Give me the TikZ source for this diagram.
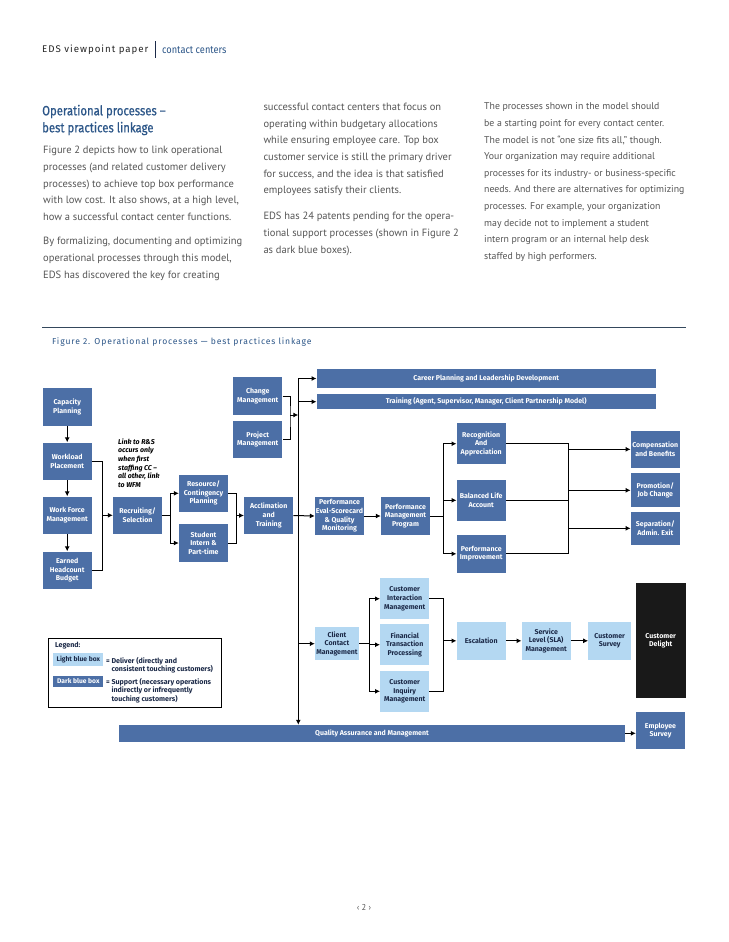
\documentclass[tikz,border=0pt]{standalone}
\usepackage{fontspec}
\setmainfont{PT Sans}
\newfontfamily\figfont{Fira Sans}
\newfontfamily\condfont[FakeStretch=0.88]{Fira Sans}
\newfontfamily\headfont[FakeStretch=0.84,FakeBold=0.6]{Fira Sans}
\newfontfamily\capfont[LetterSpace=10]{Fira Sans}
\usetikzlibrary{arrows.meta}
\definecolor{dkblue}{RGB}{76,111,166}
\definecolor{ltblue}{RGB}{180,216,242}
\definecolor{navy}{RGB}{28,42,72}
\definecolor{headblue}{RGB}{44,86,136}
\definecolor{bodygray}{RGB}{85,85,85}
\definecolor{rulegray}{RGB}{52,72,92}

\tikzset{
  box/.style={inner sep=1pt,align=center,minimum width=49,minimum height=37.5,
    font=\figfont\bfseries\fontsize{7}{8.6}\selectfont},
  dark/.style={box,fill=dkblue,text=white},
  light/.style={box,fill=ltblue,text=navy},
  bar/.style={dark,minimum height=16},
  body/.style={anchor=north west,inner sep=0,align=left,text=bodygray,
    font=\fontsize{10.5}{16.6}\selectfont},
  small/.style={anchor=north west,inner sep=0,align=left,text=navy,
    font=\figfont\bfseries\fontsize{7.1}{8.4}\selectfont},
  link/.style={line width=1pt},
}

\begin{document}
\begin{tikzpicture}[x=1pt,y=-1pt,>={Latex[length=5pt,width=5pt]}]
\useasboundingbox (0,0) rectangle (728,942);
\fill[white] (0,0) rectangle (728,942);

% page head
\node[anchor=west,inner sep=0,text=black!85,font=\capfont\fontsize{9.7}{11}\selectfont] (hd) at (42,50) {EDS viewpoint paper};
\draw[navy,line width=0.7pt] (155,41.5) -- (155,58);
\node[anchor=west,inner sep=0,text=headblue,font=\condfont\fontsize{10.5}{11}\selectfont] (hdb) at (162,50) {contact centers};

% text columns
\node[anchor=north west,inner sep=0,align=left,text=headblue,font=\headfont\fontsize{13.5}{17}\selectfont] (ttl) at (42,104.6) {Operational processes –\\best practices linkage};
\node[body] (pa) at (43,146.3) {Figure 2 depicts how to link operational\\
processes (and related customer delivery\\
processes) to achieve top box performance\\
with low cost. It also shows, at a high level,\\
how a successful contact center functions.};
\node[body] (pb) at (43,237.3) {By formalizing, documenting and optimizing\\
operational processes through this model,\\
EDS has discovered the key for creating};
\node[body] (pc) at (263.3,103) {successful contact centers that focus on\\
operating within budgetary allocations\\
while ensuring employee care. Top box\\
customer service is still the primary driver\\
for success, and the idea is that satisfied\\
employees satisfy their clients.};
\node[body] (pd) at (263.3,212.3) {EDS has 24 patents pending for the opera-\\
tional support processes (shown in Figure 2\\
as dark blue boxes).};
\node[body,font=\fontsize{9.8}{16.65}\selectfont] (pe) at (484,102.6) {The processes shown in the model should\\
be a starting point for every contact center.\\
The model is not “one size fits all,” though.\\
Your organization may require additional\\
processes for its industry- or business-specific\\
needs. And there are alternatives for optimizing\\
processes. For example, your organization\\
may decide not to implement a student\\
intern program or an internal help desk\\
staffed by high performers.};

\draw[rulegray,line width=0.8pt] (42,327) -- (686,327);
\node[anchor=west,inner sep=0,text=headblue,font=\capfont\fontsize{8.6}{9}\selectfont] (fig) at (52,342) {Figure 2. Operational processes — best practices linkage};

% support boxes
\node[dark] (cap) at (67.2,406.8) {Capacity\\Planning};
\node[dark] (wlp) at (67.2,461.3) {Workload\\Placement};
\node[dark] (wfm) at (67.2,515.3) {Work Force\\Management};
\node[dark] (ehb) at (67.2,570.3) {Earned\\Headcount\\Budget};
\node[dark] (rcs) at (137.5,515.3) {Recruiting/\\Selection};
\node[dark] (rcp) at (203.5,493.3) {Resource/\\Contingency\\Planning};
\node[dark] (sip) at (203.5,543) {Student\\Intern \&\\Part-time};
\node[dark] (act) at (268.7,515.5) {Acclimation\\and\\Training};
\node[dark] (chg) at (257.8,396) {Change\\Management};
\node[dark] (prj) at (257.8,439.5) {Project\\Management};
\node[dark] (pev) at (339.5,516) {Performance\\Eval-Scorecard\\\& Quality\\Monitoring};
\node[dark] (pmp) at (405.5,516) {Performance\\Management\\Program};
\node[dark,minimum height=40.7] (rap) at (481.2,443.7) {Recognition\\And\\Appreciation};
\node[dark,minimum height=40.7] (bla) at (481.2,500.3) {Balanced Life\\Account};
\node[dark] (pim) at (481.2,553.8) {Performance\\Improvement};
\node[dark,minimum height=36.7] (cmp) at (655.3,449.3) {Compensation\\and Benefits};
\node[dark,minimum height=34] (prm) at (655.3,490.3) {Promotion/\\Job Change};
\node[dark,minimum height=33.3] (sae) at (655.3,528.3) {Separation/\\Admin. Exit};
\node[bar,minimum width=339,minimum height=18.4] (cpl) at (486.2,378.5) {Career Planning and Leadership Development};
\node[bar,minimum width=339,minimum height=15.3] (trn) at (486.2,401.7) {Training (Agent, Supervisor, Manager, Client Partnership Model)};
\node[bar,minimum width=506,minimum height=16.7] (qam) at (372,733.3) {Quality Assurance and Management};
\node[dark,minimum height=37] (esv) at (660.5,730.8) {Employee\\Survey};

% delivery boxes
\node[light,minimum width=44,minimum height=32.7] (ccm) at (337,643.7) {Client\\Contact\\Management};
\node[light,minimum height=40.7] (cim) at (404.7,598.7) {Customer\\Interaction\\Management};
\node[light,minimum height=40.7] (ftp) at (404.7,644.7) {Financial\\Transaction\\Processing};
\node[light,minimum height=40.7] (ciq) at (404.7,691.3) {Customer\\Inquiry\\Management};
\node[light,minimum height=38.3] (esc) at (481.2,640.8) {Escalation};
\node[light,minimum height=38.3] (sla) at (546.2,640.8) {Service\\Level (SLA)\\Management};
\node[light,minimum width=42.7,minimum height=38.3] (csv) at (609.7,640.8) {Customer\\Survey};
\node[box,fill=black!90,text=white,minimum width=50,minimum height=115] (cdl) at (660.7,640.8) {Customer\\Delight};

\node[small,text=black,font=\figfont\bfseries\itshape\fontsize{7}{8.6}\selectfont] (lnk) at (118,438.4) {Link to R\&S\\occurs only\\when first\\staffing CC –\\all other, link\\to WFM};

% connectors
\draw[link,->] (cap) -- (wlp);
\draw[link,->] (wlp) -- (wfm);
\draw[link,->] (wfm) -- (ehb);
\coordinate (b1) at (102.7,515.3);
\draw[link] (wlp.east) -| (b1) |- (ehb.east);
\draw[link,->] (b1) -- (rcs.west);
\coordinate (b2) at (170,515.3);
\draw[link] (rcs.east) -- (b2);
\draw[link,->] (b2) |- (rcp.west);
\draw[link,->] (b2) |- (sip.west);
\coordinate (b3) at (236.7,515.5);
\draw[link] (rcp.east) -| (b3) |- (sip.east);
\draw[link,->] (b3) -- (act.west);

\coordinate (sp) at (298.3,0);
\draw[link,->] (cpl.west -| sp) -- (qam.north -| sp);
\draw[link,->] (cpl.west -| sp) -- (cpl.west);
\draw[link,->] (trn.west -| sp) -- (trn.west);
\coordinate (b4) at (290,415);
\draw[link] (chg.east) -| (b4) |- (prj.east);
\draw[link,->] (b4) -- (b4 -| sp);
\draw[link,->] (act.east) -- (pev.west);
\draw[link,->] (pev) -- (pmp);
\draw[link,->] (ccm.west -| sp) -- (ccm.west);

\coordinate (b5) at (443.3,516);
\draw[link] (pmp.east) -- (b5);
\draw[link,->] (b5) |- (rap.west);
\draw[link,->] (b5) |- (bla.west);
\draw[link,->] (b5) |- (pim.west);
\coordinate (b6) at (568,0);
\draw[link] (rap.east) -- (rap.east -| b6) -- (pim.east -| b6) -- (pim.east);
\draw[link] (bla.east) -- (bla.east -| b6);
\draw[link,->] (cmp.west -| b6) -- (cmp.west);
\draw[link,->] (prm.west -| b6) -- (prm.west);
\draw[link,->] (sae.west -| b6) -- (sae.west);

\coordinate (b7) at (369.3,643.7);
\draw[link] (ccm.east) -- (b7);
\draw[link,->] (b7) |- (cim.west);
\draw[link,->] (b7) |- (ftp.west);
\draw[link,->] (b7) |- (ciq.west);
\coordinate (b8) at (443.3,0);
\draw[link] (cim.east) -- (cim.east -| b8) -- (ciq.east -| b8) -- (ciq.east);
\draw[link,->] (esc.west -| b8) -- (esc.west);
\draw[link,->] (esc) -- (sla);
\draw[link,->] (sla) -- (csv);
\draw[link,->] (qam.east) -- (qam.east -| esv.west);

% legend
\node[draw,line width=0.8pt,minimum width=173.4,minimum height=69,inner sep=0] (lgd) at (135,672.8) {};
\node[small,anchor=west] (lgt) at (55,645.7) {Legend:};
\node[light,minimum width=50,minimum height=12.4,font=\figfont\bfseries\fontsize{6.7}{8}\selectfont] (lgl) at (78.3,659.5) {Light blue box};
\node[small] (lgx) at (106,657.2) {= Deliver (directly and\\\phantom{= }consistent touching customers)};
\node[dark,minimum width=50,minimum height=10.7,font=\figfont\bfseries\fontsize{6.7}{8}\selectfont] (lgk) at (78.3,681.3) {Dark blue box};
\node[small] (lgy) at (106,678.2) {= Support (necessary operations\\\phantom{= }indirectly or infrequently\\\phantom{= }touching customers)};

\node[text=bodygray,font=\fontsize{8.5}{9}\selectfont] (pg) at (364,907) {‹ 2 ›};
\end{tikzpicture}
\end{document}
